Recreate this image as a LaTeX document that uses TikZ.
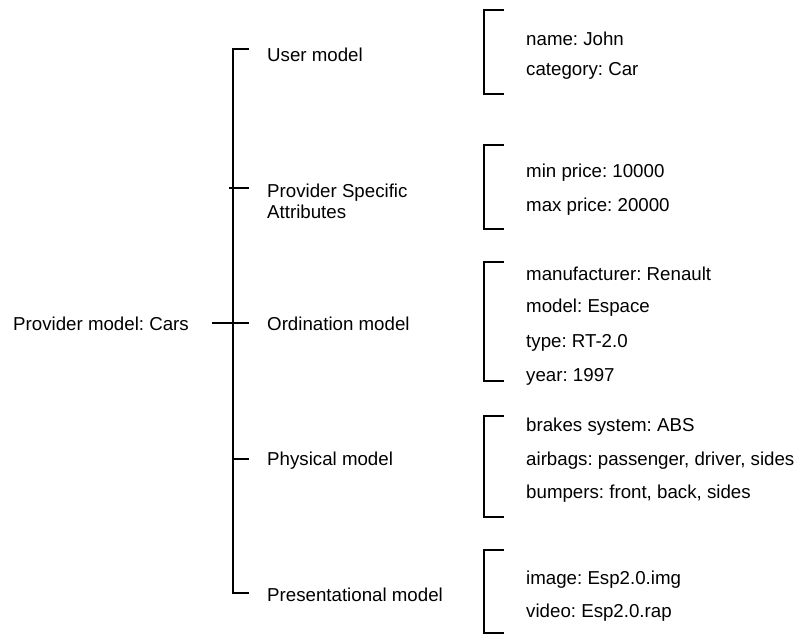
\documentclass[tikz,border=0pt]{standalone}
\usepackage{fontspec}
\setmainfont{Liberation Sans}
\begin{document}
\frenchspacing
\begin{tikzpicture}[x=1pt,y=-1pt,
  lbl/.style={anchor=west,inner sep=0pt,font=\fontsize{18.7}{21}\selectfont},
  brace/.style={line width=1.6pt,line cap=rect}]
\useasboundingbox (0,0) rectangle (798,635);

% root and first-level models
\node[lbl] (root) at (13,324) {Provider model: Cars};
\node[lbl] (user) at (267,55) {User model};
\node[lbl,align=left] (psa) at (267,201) {Provider Specific\\Attributes};
\node[lbl] (ord) at (267,324) {Ordination model};
\node[lbl] (phys) at (267,461) {Physical model};
\node[lbl] (pres) at (267,595) {Presentational model};

% main bracket
\coordinate (top) at (233,49);
\coordinate (bot) at (233,593);
\draw[brace] (248,49) -- (top) -- (bot) -- (248,593);
\draw[brace] (230,188) -- (248,188);
\draw[brace] (213,323) -- (248,323);
\draw[brace] (233,459) -- (248,459);

% attribute brackets
\foreach \t/\b in {10/94,145/229,262/381,416/517,550/633}
  \draw[brace] (503,\t) -- (484,\t) -- (484,\b) -- (503,\b);

% attribute values
\node[lbl] (a1) at (526,39) {name: John};
\node[lbl] (a2) at (526,71) {category: Car};
\node[lbl] (b1) at (526,173) {min price: 10000};
\node[lbl] (b2) at (526,207) {max price: 20000};
\node[lbl] (c1) at (526,274) {manufacturer: Renault};
\node[lbl] (c2) at (526,308) {model: Espace};
\node[lbl] (c3) at (526,343) {type: RT-2.0};
\node[lbl] (c4) at (526,377) {year: 1997};
\node[lbl] (d1) at (526,427) {brakes system: ABS};
\node[lbl] (d2) at (526,461) {airbags: passenger, driver, sides};
\node[lbl] (d3) at (526,494) {bumpers: front, back, sides};
\node[lbl] (e1) at (526,580) {image: Esp2.0.img};
\node[lbl] (e2) at (526,613) {video: Esp2.0.rap};
\end{tikzpicture}
\end{document}
